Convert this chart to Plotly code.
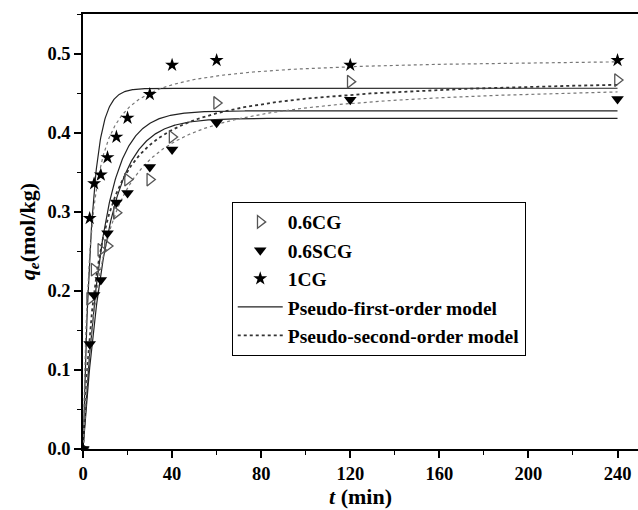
import numpy as np
import plotly.graph_objects as go

t_exp = [0, 3, 5, 8, 11, 15, 20, 30, 40, 60, 120, 240]
q_06CG = [0, 0.190, 0.227, 0.252, 0.257, 0.299, 0.341, 0.341, 0.395, 0.438, 0.465, 0.467]
q_06SCG = [0, 0.133, 0.195, 0.214, 0.273, 0.312, 0.324, 0.357, 0.379, 0.413, 0.442, 0.443]
q_1CG = [0, 0.292, 0.336, 0.347, 0.369, 0.395, 0.419, 0.449, 0.486, 0.492, 0.486, 0.492]

# ---- fitted model parameters ----
samples = ["0.6CG", "0.6SCG", "1CG"]
pfo_qe = [0.428, 0.4186, 0.4566]
pfo_k1 = [0.110, 0.094, 0.25]
pso_qe = [0.4744, 0.4676, 0.4962]
pso_k2 = [0.302, 0.2575, 0.661]

t_model = np.linspace(0, 240, 961)

FONT = "Liberation Serif"
fig = go.Figure()

pso_style = [dict(color="#333333", width=1.8), dict(color="#777777", width=1.2), dict(color="#777777", width=1.2)]

for i, s in enumerate(samples):
    q1 = pfo_qe[i] * (1 - np.exp(-pfo_k1[i] * t_model))
    fig.add_trace(go.Scatter(x=t_model, y=q1, mode="lines",
                             line=dict(color="#222222", width=1.2),
                             name="<b>Pseudo-first-order model</b>", legendgroup="pfo",
                             showlegend=(i == 0), legendrank=4))
for i, s in enumerate(samples):
    a = pso_qe[i] * pso_k2[i]
    q2 = pso_qe[i] * a * t_model / (1 + a * t_model)
    st = pso_style[i]
    fig.add_trace(go.Scatter(x=t_model, y=q2, mode="lines",
                             line=dict(color=st["color"], width=st["width"], dash="dot"),
                             name="<b>Pseudo-second-order model</b>", legendgroup="pso",
                             showlegend=(i == 0), legendrank=5))

fig.add_trace(go.Scatter(x=t_exp, y=q_06CG, mode="markers", name="<b>0.6CG</b>",
                         marker=dict(symbol="triangle-right-open", size=11, color="#555555",
                                     line=dict(width=1.3, color="#555555")), legendrank=1))
fig.add_trace(go.Scatter(x=t_exp, y=q_06SCG, mode="markers", name="<b>0.6SCG</b>",
                         marker=dict(symbol="triangle-down", size=11, color="black"), legendrank=2))
fig.add_trace(go.Scatter(x=t_exp, y=q_1CG, mode="markers", name="<b>1CG</b>",
                         marker=dict(symbol="star", size=10.5, color="black",
                                     line=dict(width=0)), legendrank=3))

fig.update_layout(
    width=638, height=510,
    margin=dict(l=83, r=0, t=14, b=61),
    paper_bgcolor="white", plot_bgcolor="white",
    font=dict(family=FONT, size=18, color="black"),
    showlegend=True,
    legend=dict(x=0.268, y=0.5685, xanchor="left", yanchor="top",
                bgcolor="white", bordercolor="black", borderwidth=1,
                font=dict(family=FONT, size=19.5, color="black"),
                itemwidth=45, tracegroupgap=0),
    xaxis=dict(range=[0, 249.2], tickmode="linear", tick0=0, dtick=40,
               showline=True, linecolor="black", linewidth=1.5, mirror=True,
               ticks="outside", ticklen=7, tickwidth=1.5, tickcolor="black",
               minor=dict(dtick=20, ticks="outside", ticklen=4, tickwidth=1.2, tickcolor="black"),
               showgrid=False, zeroline=False,
               tickfont=dict(family=FONT, size=18.5, color="black", weight="bold"),
               title=dict(text="<b><i>t</i> (min)</b>", font=dict(family=FONT, size=22), standoff=4)),
    yaxis=dict(range=[0, 0.5506], tickmode="linear", tick0=0, dtick=0.1, tickformat=".1f",
               showline=True, linecolor="black", linewidth=1.5,
               ticks="outside", ticklen=7, tickwidth=1.5, tickcolor="black",
               minor=dict(dtick=0.05, ticks="outside", ticklen=4, tickwidth=1.2, tickcolor="black"),
               showgrid=False, zeroline=False,
               tickfont=dict(family=FONT, size=18.5, color="black", weight="bold"),
               title=dict(text="<b><i>q</i><sub><i>e</i></sub>(mol/kg)</b>", font=dict(family=FONT, size=22), standoff=6)),
)

fig.write_html("out.html")
